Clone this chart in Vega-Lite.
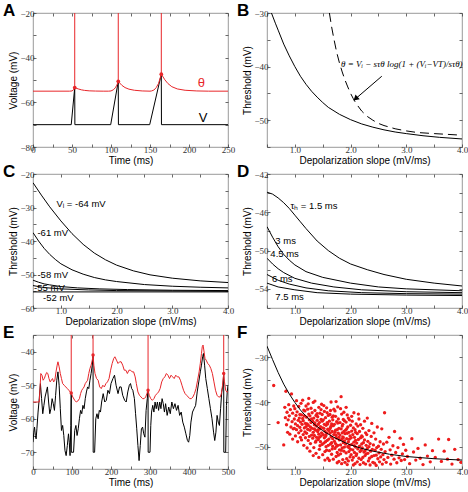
{
"$schema":"https://vega.github.io/schema/vega-lite/v6.json",
"padding":{"left":2,"top":1,"right":0,"bottom":0},
"background":"white",
"columns":2,
"spacing":{"row":27,"column":39},
"bounds":"flush",
"datasets":{
"aV":[{"t":0,"v":-70},{"t":49,"v":-70},{"t":53.5,"v":-53.4},{"t":53.7,"v":-70},{"t":99.6,"v":-70},{"t":109.3,"v":-50.6},{"t":109.5,"v":-70},{"t":149.6,"v":-70},{"t":164.5,"v":-47.4},{"t":164.7,"v":-70},{"t":250,"v":-70}],
"aTh":[{"t":0,"v":-55},{"t":47,"v":-55},{"t":50,"v":-54.9},{"t":52,"v":-54.4},{"t":53.5,"v":-53.4},{"t":55,"v":-53.6},{"t":58,"v":-54.0},{"t":62,"v":-54.4},{"t":66,"v":-54.65},{"t":72,"v":-54.85},{"t":80,"v":-54.95},{"t":90,"v":-55},{"t":97,"v":-55},{"t":100,"v":-54.9},{"t":103,"v":-54.4},{"t":105.5,"v":-53.5},{"t":107.5,"v":-52.3},{"t":109.3,"v":-50.6},{"t":111,"v":-51.3},{"t":114,"v":-52.4},{"t":118,"v":-53.4},{"t":123,"v":-54.1},{"t":130,"v":-54.6},{"t":140,"v":-54.9},{"t":150,"v":-55},{"t":152,"v":-54.9},{"t":155,"v":-54.5},{"t":158,"v":-53.4},{"t":161,"v":-51.5},{"t":164.5,"v":-47.4},{"t":166,"v":-48.2},{"t":169,"v":-49.9},{"t":173,"v":-51.6},{"t":178,"v":-53.0},{"t":185,"v":-54.0},{"t":195,"v":-54.6},{"t":210,"v":-54.9},{"t":225,"v":-55},{"t":250,"v":-55}],
"aSp":[{"t":53.5,"v":-53.4,"top":-20},{"t":109.3,"v":-50.6,"top":-20},{"t":164.5,"v":-47.4,"top":-20}],
"aLab":[{"t":216,"v":-51.5,"label":"θ","series":"theta"},{"t":218,"v":-67,"label":"V","series":"V"}],
"bSolid":[{"s":0.58,"th":-30},{"s":0.65,"th":-31.9},{"s":0.7,"th":-33.2},{"s":0.8,"th":-35.8},{"s":0.9,"th":-38.0},{"s":1.0,"th":-40.0},{"s":1.1,"th":-41.8},{"s":1.2,"th":-43.3},{"s":1.3,"th":-44.6},{"s":1.4,"th":-45.7},{"s":1.5,"th":-46.7},{"s":1.6,"th":-47.6},{"s":1.8,"th":-48.9},{"s":2.0,"th":-49.9},{"s":2.2,"th":-50.7},{"s":2.4,"th":-51.3},{"s":2.6,"th":-51.8},{"s":2.8,"th":-52.2},{"s":3.0,"th":-52.5},{"s":3.3,"th":-52.9},{"s":3.6,"th":-53.2},{"s":4.0,"th":-53.5}],
"bDash":[{"s":1.62,"th":-30},{"s":1.66,"th":-32.6},{"s":1.70,"th":-34.8},{"s":1.75,"th":-37.3},{"s":1.80,"th":-39.3},{"s":1.85,"th":-41.0},{"s":1.90,"th":-42.5},{"s":1.95,"th":-43.8},{"s":2.00,"th":-45.0},{"s":2.05,"th":-46.0},{"s":2.10,"th":-46.9},{"s":2.20,"th":-48.3},{"s":2.30,"th":-49.3},{"s":2.40,"th":-50.0},{"s":2.50,"th":-50.6},{"s":2.60,"th":-51.0},{"s":2.80,"th":-51.6},{"s":3.00,"th":-52.0},{"s":3.20,"th":-52.3},{"s":3.50,"th":-52.5},{"s":4.00,"th":-52.8}],
"bArrow":[{"s":2.56,"th":-41.8,"s2":2.09,"th2":-46.0}],
"bHead":[{"s":2.09,"th":-46.0}],
"bEq":[{"s":2.92,"th":-39.6,"label":"θ = Vᵢ − sτθ log(1 + (Vᵢ−VT)/sτθ)"}],
"cCurves":[
{"s":0.5,"th":-22.6,"k":"-64"},{"s":0.65,"th":-26.3,"k":"-64"},{"s":0.8,"th":-29.8,"k":"-64"},{"s":1.0,"th":-34.0,"k":"-64"},{"s":1.2,"th":-37.8,"k":"-64"},{"s":1.4,"th":-41.0,"k":"-64"},{"s":1.6,"th":-43.6,"k":"-64"},{"s":1.8,"th":-45.6,"k":"-64"},{"s":2.0,"th":-47.2,"k":"-64"},{"s":2.3,"th":-48.9,"k":"-64"},{"s":2.6,"th":-50.1,"k":"-64"},{"s":3.0,"th":-51.1,"k":"-64"},{"s":3.5,"th":-51.9,"k":"-64"},{"s":4.0,"th":-52.4,"k":"-64"},
{"s":0.5,"th":-37.5,"k":"-61"},{"s":0.6,"th":-40.0,"k":"-61"},{"s":0.7,"th":-42.2,"k":"-61"},{"s":0.8,"th":-44.0,"k":"-61"},{"s":0.9,"th":-45.5,"k":"-61"},{"s":1.0,"th":-46.8,"k":"-61"},{"s":1.2,"th":-48.6,"k":"-61"},{"s":1.4,"th":-49.9,"k":"-61"},{"s":1.6,"th":-50.9,"k":"-61"},{"s":1.8,"th":-51.6,"k":"-61"},{"s":2.0,"th":-52.1,"k":"-61"},{"s":2.5,"th":-53.0,"k":"-61"},{"s":3.0,"th":-53.5,"k":"-61"},{"s":3.5,"th":-53.8,"k":"-61"},{"s":4.0,"th":-54.0,"k":"-61"},
{"s":0.5,"th":-51.7,"k":"-58"},{"s":0.6,"th":-52.3,"k":"-58"},{"s":0.7,"th":-52.8,"k":"-58"},{"s":0.8,"th":-53.1,"k":"-58"},{"s":1.0,"th":-53.6,"k":"-58"},{"s":1.3,"th":-54.0,"k":"-58"},{"s":1.7,"th":-54.3,"k":"-58"},{"s":2.2,"th":-54.5,"k":"-58"},{"s":3.0,"th":-54.7,"k":"-58"},{"s":4.0,"th":-54.8,"k":"-58"},
{"s":0.5,"th":-53.3,"k":"-55"},{"s":0.7,"th":-53.9,"k":"-55"},{"s":1.0,"th":-54.3,"k":"-55"},{"s":1.5,"th":-54.6,"k":"-55"},{"s":2.0,"th":-54.8,"k":"-55"},{"s":3.0,"th":-54.9,"k":"-55"},{"s":4.0,"th":-55.0,"k":"-55"},
{"s":0.5,"th":-55.2,"k":"-52"},{"s":4.0,"th":-55.2,"k":"-52"}],
"cLab":[{"s":0.92,"th":-28.9,"label":"Vᵢ = -64 mV"},{"s":0.58,"th":-37.6,"label":"-61 mV"},{"s":0.58,"th":-50.1,"label":"-58 mV"},{"s":0.52,"th":-53.9,"label":"-55 mV"},{"s":0.68,"th":-57.1,"label":"-52 mV"}],
"dCurves":[
{"s":0.5,"th":-43.9,"k":"1.5"},{"s":0.6,"th":-44.1,"k":"1.5"},{"s":0.7,"th":-44.5,"k":"1.5"},{"s":0.8,"th":-45.0,"k":"1.5"},{"s":0.9,"th":-45.6,"k":"1.5"},{"s":1.0,"th":-46.3,"k":"1.5"},{"s":1.1,"th":-47.0,"k":"1.5"},{"s":1.2,"th":-47.7,"k":"1.5"},{"s":1.4,"th":-49.0,"k":"1.5"},{"s":1.6,"th":-50.0,"k":"1.5"},{"s":1.8,"th":-50.8,"k":"1.5"},{"s":2.0,"th":-51.4,"k":"1.5"},{"s":2.3,"th":-52.0,"k":"1.5"},{"s":2.6,"th":-52.5,"k":"1.5"},{"s":3.0,"th":-53.0,"k":"1.5"},{"s":3.5,"th":-53.4,"k":"1.5"},{"s":4.0,"th":-53.7,"k":"1.5"},
{"s":0.5,"th":-47.5,"k":"3"},{"s":0.6,"th":-48.6,"k":"3"},{"s":0.7,"th":-49.6,"k":"3"},{"s":0.8,"th":-50.4,"k":"3"},{"s":0.9,"th":-51.0,"k":"3"},{"s":1.0,"th":-51.5,"k":"3"},{"s":1.2,"th":-52.2,"k":"3"},{"s":1.5,"th":-52.8,"k":"3"},{"s":2.0,"th":-53.4,"k":"3"},{"s":2.5,"th":-53.8,"k":"3"},{"s":3.0,"th":-54.0,"k":"3"},{"s":4.0,"th":-54.2,"k":"3"},
{"s":0.5,"th":-50.8,"k":"4.5"},{"s":0.6,"th":-51.4,"k":"4.5"},{"s":0.7,"th":-51.9,"k":"4.5"},{"s":0.8,"th":-52.3,"k":"4.5"},{"s":1.0,"th":-52.9,"k":"4.5"},{"s":1.3,"th":-53.4,"k":"4.5"},{"s":1.7,"th":-53.8,"k":"4.5"},{"s":2.2,"th":-54.1,"k":"4.5"},{"s":3.0,"th":-54.3,"k":"4.5"},{"s":4.0,"th":-54.4,"k":"4.5"},
{"s":0.5,"th":-52.5,"k":"6"},{"s":0.7,"th":-53.1,"k":"6"},{"s":0.9,"th":-53.5,"k":"6"},{"s":1.2,"th":-53.9,"k":"6"},{"s":1.6,"th":-54.2,"k":"6"},{"s":2.2,"th":-54.4,"k":"6"},{"s":3.0,"th":-54.5,"k":"6"},{"s":4.0,"th":-54.55,"k":"6"},
{"s":0.5,"th":-53.4,"k":"7.5"},{"s":0.7,"th":-53.8,"k":"7.5"},{"s":1.0,"th":-54.1,"k":"7.5"},{"s":1.4,"th":-54.4,"k":"7.5"},{"s":2.0,"th":-54.55,"k":"7.5"},{"s":3.0,"th":-54.65,"k":"7.5"},{"s":4.0,"th":-54.7,"k":"7.5"}],
"dLab":[{"s":0.92,"th":-45.3,"label":"τₕ = 1.5 ms"},{"s":0.65,"th":-49.0,"label":"3 ms"},{"s":0.56,"th":-50.4,"label":"4.5 ms"},{"s":0.59,"th":-53.0,"label":"6 ms"},{"s":0.65,"th":-54.8,"label":"7.5 ms"}],
"eV":[{"t":0,"v":-67},{"t":2,"v":-64},{"t":4,"v":-62.5},{"t":6,"v":-65},{"t":8,"v":-66},{"t":10,"v":-63},{"t":13,"v":-58},{"t":16,"v":-54},{"t":19,"v":-49.5},{"t":22,"v":-54},{"t":25,"v":-58.5},{"t":28,"v":-56},{"t":31,"v":-53.5},{"t":34,"v":-52},{"t":37,"v":-50.5},{"t":40,"v":-55},{"t":43,"v":-58.5},{"t":46,"v":-57},{"t":49,"v":-54},{"t":52,"v":-55.5},{"t":55,"v":-57.5},{"t":58,"v":-53},{"t":61,"v":-48.5},{"t":64,"v":-46},{"t":67,"v":-50},{"t":70,"v":-57},{"t":73,"v":-63.5},{"t":76,"v":-62},{"t":79,"v":-65},{"t":82,"v":-69.5},{"t":85,"v":-71},{"t":88,"v":-68},{"t":91,"v":-64.5},{"t":93,"v":-67},{"t":95,"v":-71},{"t":97,"v":-62},{"t":98,"v":-52.3},{"t":98.3,"v":-70},{"t":104,"v":-70},{"t":107,"v":-63.5},{"t":110,"v":-62},{"t":113,"v":-65},{"t":116,"v":-63},{"t":119,"v":-60},{"t":122,"v":-57.5},{"t":125,"v":-58.5},{"t":128,"v":-56},{"t":131,"v":-57},{"t":134,"v":-54},{"t":137,"v":-52},{"t":140,"v":-50.5},{"t":143,"v":-51},{"t":146,"v":-48.5},{"t":149,"v":-46.5},{"t":152,"v":-44},{"t":154,"v":-41},{"t":154.3,"v":-70},{"t":158,"v":-70},{"t":161,"v":-60},{"t":164,"v":-58.5},{"t":167,"v":-60},{"t":170,"v":-57.5},{"t":173,"v":-58},{"t":176,"v":-55},{"t":180,"v":-52.5},{"t":184,"v":-55},{"t":188,"v":-54.5},{"t":192,"v":-51.5},{"t":196,"v":-52.5},{"t":200,"v":-49.5},{"t":205,"v":-48},{"t":209,"v":-47},{"t":213,"v":-50},{"t":218,"v":-52.5},{"t":222,"v":-50.5},{"t":226,"v":-50.5},{"t":230,"v":-53},{"t":235,"v":-54.5},{"t":239,"v":-55},{"t":243,"v":-52},{"t":247,"v":-50},{"t":250,"v":-49.5},{"t":253,"v":-51},{"t":256,"v":-51.5},{"t":260,"v":-54},{"t":263,"v":-58.5},{"t":266,"v":-63},{"t":269,"v":-68},{"t":272,"v":-72.5},{"t":275,"v":-68},{"t":278,"v":-63},{"t":281,"v":-62.5},{"t":284,"v":-64.5},{"t":287,"v":-65.5},{"t":290,"v":-57.5},{"t":293,"v":-54},{"t":295,"v":-51.5},{"t":295.3,"v":-70},{"t":300,"v":-70},{"t":302,"v":-62},{"t":304,"v":-58},{"t":307,"v":-56},{"t":310,"v":-58},{"t":313,"v":-55},{"t":316,"v":-57},{"t":319,"v":-55},{"t":322,"v":-57.5},{"t":325,"v":-55},{"t":328,"v":-57},{"t":331,"v":-54},{"t":334,"v":-55.5},{"t":337,"v":-58},{"t":340,"v":-55.5},{"t":344,"v":-59},{"t":348,"v":-56.5},{"t":352,"v":-58.5},{"t":356,"v":-55},{"t":360,"v":-57},{"t":364,"v":-55.5},{"t":368,"v":-57.5},{"t":372,"v":-56},{"t":376,"v":-59},{"t":380,"v":-58},{"t":384,"v":-61},{"t":388,"v":-62.5},{"t":392,"v":-64.5},{"t":396,"v":-66.5},{"t":399,"v":-67},{"t":402,"v":-65},{"t":405,"v":-61},{"t":409,"v":-58},{"t":413,"v":-57},{"t":417,"v":-56},{"t":421,"v":-52},{"t":425,"v":-49},{"t":429,"v":-46},{"t":432,"v":-44},{"t":435,"v":-41.5},{"t":437,"v":-40.5},{"t":440,"v":-44},{"t":443,"v":-48},{"t":447,"v":-51},{"t":451,"v":-54},{"t":455,"v":-57},{"t":459,"v":-60},{"t":463,"v":-64},{"t":466,"v":-66.5},{"t":469,"v":-64},{"t":472,"v":-59},{"t":475,"v":-61},{"t":478,"v":-62},{"t":481,"v":-57},{"t":484,"v":-52},{"t":487,"v":-50},{"t":489,"v":-46.5},{"t":489.3,"v":-70},{"t":494,"v":-70},{"t":496,"v":-56},{"t":498,"v":-52},{"t":500,"v":-50}],
"eTh":[{"t":0,"v":-55},{"t":16,"v":-55},{"t":18,"v":-51},{"t":20,"v":-46.5},{"t":23,"v":-47},{"t":26,"v":-48.5},{"t":29,"v":-48},{"t":32,"v":-47},{"t":35,"v":-46.2},{"t":38,"v":-46.5},{"t":41,"v":-48},{"t":44,"v":-49},{"t":47,"v":-48.5},{"t":50,"v":-48},{"t":53,"v":-49},{"t":56,"v":-48.5},{"t":59,"v":-46},{"t":62,"v":-44},{"t":64,"v":-43},{"t":67,"v":-44.5},{"t":70,"v":-46.5},{"t":73,"v":-48},{"t":76,"v":-49.5},{"t":80,"v":-50},{"t":84,"v":-50.5},{"t":88,"v":-51},{"t":92,"v":-51.5},{"t":95,"v":-52},{"t":98,"v":-52.3},{"t":102,"v":-53.5},{"t":107,"v":-54.5},{"t":111,"v":-55},{"t":115,"v":-54.7},{"t":119,"v":-54},{"t":122,"v":-52.5},{"t":125,"v":-51.5},{"t":128,"v":-51},{"t":131,"v":-50.5},{"t":134,"v":-49.5},{"t":137,"v":-49},{"t":140,"v":-48.5},{"t":143,"v":-46.5},{"t":146,"v":-45},{"t":149,"v":-44},{"t":152,"v":-42.5},{"t":154,"v":-41},{"t":156,"v":-44},{"t":159,"v":-46.5},{"t":163,"v":-48},{"t":167,"v":-48.5},{"t":171,"v":-50.5},{"t":175,"v":-51},{"t":179,"v":-50},{"t":183,"v":-50.5},{"t":187,"v":-49.5},{"t":191,"v":-49},{"t":195,"v":-48},{"t":199,"v":-45.5},{"t":203,"v":-43.5},{"t":207,"v":-42},{"t":210,"v":-41.5},{"t":214,"v":-42.5},{"t":218,"v":-43.5},{"t":222,"v":-43},{"t":226,"v":-43},{"t":230,"v":-44},{"t":234,"v":-45.5},{"t":238,"v":-45.5},{"t":242,"v":-46.5},{"t":246,"v":-45.5},{"t":250,"v":-45.5},{"t":254,"v":-46},{"t":258,"v":-46},{"t":262,"v":-47.5},{"t":265,"v":-49.5},{"t":269,"v":-52},{"t":273,"v":-53},{"t":277,"v":-53.5},{"t":281,"v":-54},{"t":285,"v":-54},{"t":289,"v":-53.5},{"t":292,"v":-52.5},{"t":295,"v":-51.5},{"t":298,"v":-53},{"t":302,"v":-54},{"t":306,"v":-54.5},{"t":310,"v":-54},{"t":314,"v":-53},{"t":318,"v":-52.5},{"t":322,"v":-52},{"t":326,"v":-51},{"t":330,"v":-49},{"t":334,"v":-48},{"t":338,"v":-47.5},{"t":342,"v":-46.5},{"t":346,"v":-47},{"t":350,"v":-48},{"t":354,"v":-47},{"t":358,"v":-47.5},{"t":362,"v":-48},{"t":366,"v":-47},{"t":370,"v":-47.5},{"t":374,"v":-47.5},{"t":378,"v":-48.5},{"t":382,"v":-50},{"t":386,"v":-51.5},{"t":390,"v":-52.5},{"t":394,"v":-53},{"t":398,"v":-53.5},{"t":402,"v":-54},{"t":406,"v":-54},{"t":410,"v":-53.5},{"t":414,"v":-52.5},{"t":418,"v":-51},{"t":422,"v":-48.5},{"t":426,"v":-46},{"t":429,"v":-43.5},{"t":432,"v":-40.5},{"t":434,"v":-38.5},{"t":436,"v":-38},{"t":438,"v":-39.5},{"t":441,"v":-42},{"t":444,"v":-42.5},{"t":448,"v":-43.5},{"t":452,"v":-44},{"t":456,"v":-45},{"t":460,"v":-46.5},{"t":464,"v":-49},{"t":468,"v":-51.5},{"t":472,"v":-53},{"t":476,"v":-53.5},{"t":480,"v":-53.5},{"t":483,"v":-52.5},{"t":486,"v":-50},{"t":489,"v":-46.5},{"t":491,"v":-49},{"t":494,"v":-51.5},{"t":497,"v":-52},{"t":500,"v":-52}],
"eSp":[{"t":98,"v":-52.3,"top":-35},{"t":154,"v":-41,"top":-35},{"t":295,"v":-51.5,"top":-35},{"t":489,"v":-46.5,"top":-35}],
"fCurve":[{"s":0.5,"th":-27.5},{"s":0.6,"th":-30.5},{"s":0.7,"th":-33.4},{"s":0.8,"th":-36.0},{"s":0.9,"th":-38.2},{"s":1.0,"th":-40.1},{"s":1.1,"th":-41.8},{"s":1.2,"th":-43.2},{"s":1.3,"th":-44.4},{"s":1.4,"th":-45.5},{"s":1.5,"th":-46.4},{"s":1.6,"th":-47.2},{"s":1.7,"th":-47.9},{"s":1.8,"th":-48.5},{"s":1.9,"th":-49.1},{"s":2.0,"th":-49.6},{"s":2.2,"th":-50.4},{"s":2.4,"th":-51.0},{"s":2.7,"th":-51.7},{"s":3.0,"th":-52.2},{"s":3.5,"th":-52.7},{"s":4.0,"th":-53.0}],
"fPts":[
{"s":0.62,"th":-36.3},{"s":0.70,"th":-44.6},{"s":0.80,"th":-49.6},
{"s":0.82,"th":-41.2},{"s":0.83,"th":-43.5},{"s":0.84,"th":-37.6},{"s":0.85,"th":-45.1},{"s":0.86,"th":-42.3},{"s":0.87,"th":-46.8},{"s":0.88,"th":-44.0},{"s":0.89,"th":-40.6},
{"s":0.90,"th":-43.1},{"s":0.91,"th":-47.2},{"s":0.92,"th":-41.7},{"s":0.93,"th":-45.6},{"s":0.94,"th":-38.2},{"s":0.95,"th":-44.4},{"s":0.96,"th":-42.5},{"s":0.96,"th":-48.3},{"s":0.97,"th":-46.0},{"s":0.98,"th":-40.9},{"s":0.99,"th":-43.8},{"s":0.99,"th":-45.9},
{"s":1.00,"th":-41.5},{"s":1.01,"th":-44.9},{"s":1.01,"th":-47.6},{"s":1.02,"th":-43.0},{"s":1.03,"th":-39.7},{"s":1.03,"th":-46.2},{"s":1.04,"th":-42.2},{"s":1.05,"th":-45.3},{"s":1.05,"th":-48.9},{"s":1.06,"th":-44.1},{"s":1.07,"th":-41.0},{"s":1.07,"th":-46.9},{"s":1.08,"th":-43.6},{"s":1.09,"th":-45.7},{"s":1.09,"th":-42.8},{"s":1.10,"th":-47.9},
{"s":1.10,"th":-44.5},{"s":1.11,"th":-40.3},{"s":1.11,"th":-46.4},{"s":1.12,"th":-42.9},{"s":1.12,"th":-48.5},{"s":1.13,"th":-45.0},{"s":1.14,"th":-43.7},{"s":1.14,"th":-39.6},{"s":1.15,"th":-47.3},{"s":1.15,"th":-44.2},{"s":1.16,"th":-41.8},{"s":1.16,"th":-49.7},{"s":1.17,"th":-45.8},{"s":1.17,"th":-43.1},{"s":1.18,"th":-46.7},{"s":1.18,"th":-42.0},{"s":1.19,"th":-44.8},{"s":1.19,"th":-48.0},{"s":1.20,"th":-40.9},{"s":1.20,"th":-45.5},
{"s":1.21,"th":-43.4},{"s":1.21,"th":-47.0},{"s":1.22,"th":-44.9},{"s":1.22,"th":-50.3},{"s":1.23,"th":-41.6},{"s":1.23,"th":-46.1},{"s":1.24,"th":-45.2},{"s":1.24,"th":-48.6},{"s":1.25,"th":-42.7},{"s":1.25,"th":-39.2},{"s":1.26,"th":-44.0},{"s":1.26,"th":-47.7},{"s":1.27,"th":-46.3},{"s":1.27,"th":-43.1},{"s":1.28,"th":-49.3},{"s":1.28,"th":-45.6},{"s":1.29,"th":-41.4},{"s":1.29,"th":-44.6},{"s":1.30,"th":-47.4},{"s":1.30,"th":-43.8},{"s":1.24,"th":-40.4},{"s":1.27,"th":-51.0},
{"s":1.31,"th":-45.9},{"s":1.31,"th":-42.4},{"s":1.32,"th":-48.1},{"s":1.32,"th":-44.3},{"s":1.33,"th":-46.8},{"s":1.33,"th":-40.1},{"s":1.34,"th":-43.6},{"s":1.34,"th":-50.2},{"s":1.35,"th":-45.1},{"s":1.35,"th":-47.5},{"s":1.36,"th":-41.9},{"s":1.36,"th":-44.7},{"s":1.37,"th":-49.0},{"s":1.37,"th":-46.3},{"s":1.38,"th":-43.0},{"s":1.38,"th":-51.5},{"s":1.39,"th":-45.4},{"s":1.39,"th":-47.9},{"s":1.40,"th":-42.6},{"s":1.40,"th":-44.1},{"s":1.33,"th":-52.0},{"s":1.36,"th":-39.8},{"s":1.38,"th":-48.7},{"s":1.35,"th":-46.0},
{"s":1.41,"th":-46.6},{"s":1.41,"th":-43.3},{"s":1.42,"th":-48.4},{"s":1.42,"th":-45.0},{"s":1.43,"th":-41.2},{"s":1.43,"th":-47.2},{"s":1.44,"th":-44.6},{"s":1.44,"th":-50.6},{"s":1.45,"th":-46.0},{"s":1.45,"th":-42.5},{"s":1.46,"th":-48.9},{"s":1.46,"th":-45.5},{"s":1.47,"th":-43.9},{"s":1.47,"th":-47.6},{"s":1.48,"th":-40.5},{"s":1.48,"th":-46.9},{"s":1.49,"th":-49.5},{"s":1.49,"th":-44.3},{"s":1.50,"th":-45.8},{"s":1.50,"th":-51.8},{"s":1.43,"th":-52.4},{"s":1.45,"th":-49.8},{"s":1.47,"th":-41.7},{"s":1.44,"th":-47.9},{"s":1.49,"th":-42.8},{"s":1.42,"th":-46.2},
{"s":1.51,"th":-47.3},{"s":1.51,"th":-44.0},{"s":1.52,"th":-49.2},{"s":1.52,"th":-45.9},{"s":1.53,"th":-42.1},{"s":1.53,"th":-48.0},{"s":1.54,"th":-46.5},{"s":1.54,"th":-51.1},{"s":1.55,"th":-43.5},{"s":1.55,"th":-47.7},{"s":1.56,"th":-45.2},{"s":1.56,"th":-50.0},{"s":1.57,"th":-41.3},{"s":1.57,"th":-46.9},{"s":1.58,"th":-48.6},{"s":1.58,"th":-44.6},{"s":1.59,"th":-52.6},{"s":1.59,"th":-46.1},{"s":1.60,"th":-43.0},{"s":1.60,"th":-49.7},{"s":1.52,"th":-40.8},{"s":1.54,"th":-53.0},{"s":1.56,"th":-47.4},{"s":1.58,"th":-42.4},{"s":1.53,"th":-45.0},{"s":1.57,"th":-50.8},{"s":1.59,"th":-44.9},{"s":1.55,"th":-48.9},
{"s":1.61,"th":-46.4},{"s":1.61,"th":-48.3},{"s":1.62,"th":-44.3},{"s":1.62,"th":-50.9},{"s":1.63,"th":-47.0},{"s":1.63,"th":-42.8},{"s":1.64,"th":-49.4},{"s":1.64,"th":-45.7},{"s":1.65,"th":-40.0},{"s":1.65,"th":-47.8},{"s":1.66,"th":-51.7},{"s":1.66,"th":-44.9},{"s":1.67,"th":-46.6},{"s":1.67,"th":-43.4},{"s":1.68,"th":-49.9},{"s":1.68,"th":-48.2},{"s":1.69,"th":-45.3},{"s":1.69,"th":-52.8},{"s":1.70,"th":-41.6},{"s":1.70,"th":-47.3},{"s":1.62,"th":-53.1},{"s":1.64,"th":-41.9},{"s":1.66,"th":-49.1},{"s":1.68,"th":-44.0},{"s":1.63,"th":-46.0},{"s":1.67,"th":-50.5},{"s":1.69,"th":-43.1},{"s":1.65,"th":-45.4},
{"s":1.71,"th":-48.8},{"s":1.71,"th":-45.0},{"s":1.72,"th":-50.4},{"s":1.72,"th":-46.8},{"s":1.73,"th":-43.2},{"s":1.73,"th":-49.3},{"s":1.74,"th":-47.5},{"s":1.74,"th":-52.2},{"s":1.75,"th":-44.4},{"s":1.75,"th":-48.1},{"s":1.76,"th":-46.2},{"s":1.76,"th":-51.3},{"s":1.77,"th":-41.1},{"s":1.77,"th":-49.7},{"s":1.78,"th":-47.0},{"s":1.78,"th":-43.8},{"s":1.79,"th":-53.3},{"s":1.79,"th":-45.9},{"s":1.80,"th":-48.5},{"s":1.80,"th":-50.7},{"s":1.72,"th":-42.0},{"s":1.74,"th":-39.9},{"s":1.76,"th":-53.6},{"s":1.78,"th":-51.9},{"s":1.73,"th":-46.3},{"s":1.77,"th":-44.7},{"s":1.79,"th":-47.9},{"s":1.75,"th":-49.9},
{"s":1.81,"th":-47.4},{"s":1.81,"th":-44.6},{"s":1.82,"th":-49.6},{"s":1.82,"th":-51.6},{"s":1.83,"th":-46.0},{"s":1.83,"th":-38.8},{"s":1.84,"th":-48.4},{"s":1.84,"th":-42.7},{"s":1.85,"th":-50.3},{"s":1.85,"th":-45.4},{"s":1.86,"th":-47.8},{"s":1.86,"th":-52.9},{"s":1.87,"th":-43.9},{"s":1.87,"th":-49.1},{"s":1.88,"th":-46.6},{"s":1.88,"th":-51.0},{"s":1.89,"th":-48.7},{"s":1.89,"th":-44.2},{"s":1.90,"th":-53.5},{"s":1.90,"th":-47.1},{"s":1.82,"th":-41.5},{"s":1.84,"th":-53.8},{"s":1.86,"th":-45.0},{"s":1.88,"th":-42.3},{"s":1.83,"th":-50.8},{"s":1.87,"th":-48.0},{"s":1.89,"th":-50.1},{"s":1.85,"th":-46.9},
{"s":1.91,"th":-49.4},{"s":1.91,"th":-46.3},{"s":1.92,"th":-51.4},{"s":1.92,"th":-44.5},{"s":1.93,"th":-48.2},{"s":1.93,"th":-52.7},{"s":1.94,"th":-47.0},{"s":1.94,"th":-42.9},{"s":1.95,"th":-50.0},{"s":1.95,"th":-45.6},{"s":1.96,"th":-53.2},{"s":1.96,"th":-48.9},{"s":1.97,"th":-46.8},{"s":1.97,"th":-51.1},{"s":1.98,"th":-44.0},{"s":1.98,"th":-49.7},{"s":1.99,"th":-47.6},{"s":1.99,"th":-52.3},{"s":2.00,"th":-45.2},{"s":2.00,"th":-50.6},{"s":1.92,"th":-41.2},{"s":1.94,"th":-54.0},{"s":1.96,"th":-43.6},{"s":1.98,"th":-48.3},{"s":1.93,"th":-46.0},{"s":1.97,"th":-50.2},
{"s":2.01,"th":-48.0},{"s":2.01,"th":-51.8},{"s":2.02,"th":-46.5},{"s":2.02,"th":-49.5},{"s":2.03,"th":-53.0},{"s":2.03,"th":-44.3},{"s":2.04,"th":-50.7},{"s":2.04,"th":-47.3},{"s":2.05,"th":-52.4},{"s":2.05,"th":-45.8},{"s":2.06,"th":-49.0},{"s":2.06,"th":-42.4},{"s":2.07,"th":-51.3},{"s":2.07,"th":-47.9},{"s":2.08,"th":-53.8},{"s":2.08,"th":-46.2},{"s":2.09,"th":-50.1},{"s":2.09,"th":-48.6},{"s":2.10,"th":-44.9},{"s":2.10,"th":-52.0},{"s":2.02,"th":-43.2},{"s":2.05,"th":-54.1},{"s":2.07,"th":-49.8},{"s":2.09,"th":-46.8},
{"s":2.11,"th":-49.2},{"s":2.11,"th":-51.6},{"s":2.12,"th":-47.1},{"s":2.12,"th":-53.4},{"s":2.13,"th":-45.4},{"s":2.13,"th":-50.5},{"s":2.14,"th":-48.4},{"s":2.15,"th":-52.6},{"s":2.15,"th":-43.8},{"s":2.16,"th":-49.9},{"s":2.16,"th":-46.6},{"s":2.17,"th":-51.1},{"s":2.17,"th":-54.0},{"s":2.18,"th":-48.0},{"s":2.18,"th":-45.1},{"s":2.19,"th":-50.8},{"s":2.19,"th":-52.9},{"s":2.20,"th":-47.6},{"s":2.14,"th":-42.7},{"s":2.20,"th":-49.4},
{"s":2.21,"th":-50.3},{"s":2.21,"th":-47.8},{"s":2.22,"th":-52.4},{"s":2.22,"th":-45.9},{"s":2.23,"th":-49.1},{"s":2.23,"th":-53.6},{"s":2.24,"th":-51.2},{"s":2.25,"th":-48.5},{"s":2.25,"th":-44.3},{"s":2.26,"th":-50.9},{"s":2.26,"th":-52.0},{"s":2.27,"th":-46.9},{"s":2.27,"th":-53.9},{"s":2.28,"th":-49.7},{"s":2.28,"th":-51.6},{"s":2.29,"th":-47.3},{"s":2.30,"th":-50.4},{"s":2.30,"th":-43.6},
{"s":2.31,"th":-51.5},{"s":2.31,"th":-48.8},{"s":2.32,"th":-53.2},{"s":2.33,"th":-50.0},{"s":2.33,"th":-46.4},{"s":2.34,"th":-52.6},{"s":2.35,"th":-49.3},{"s":2.35,"th":-54.1},{"s":2.36,"th":-51.0},{"s":2.37,"th":-47.7},{"s":2.38,"th":-52.2},{"s":2.38,"th":-44.8},{"s":2.39,"th":-50.6},{"s":2.40,"th":-53.5},
{"s":2.41,"th":-49.6},{"s":2.42,"th":-52.0},{"s":2.42,"th":-46.9},{"s":2.43,"th":-53.7},{"s":2.44,"th":-50.8},{"s":2.45,"th":-48.3},{"s":2.46,"th":-51.9},{"s":2.46,"th":-54.2},{"s":2.47,"th":-50.2},{"s":2.48,"th":-45.6},{"s":2.49,"th":-52.7},{"s":2.50,"th":-49.9},
{"s":2.51,"th":-51.4},{"s":2.52,"th":-53.4},{"s":2.53,"th":-48.9},{"s":2.54,"th":-52.3},{"s":2.55,"th":-50.6},{"s":2.56,"th":-46.0},{"s":2.57,"th":-53.9},{"s":2.58,"th":-51.8},{"s":2.59,"th":-49.4},{"s":2.60,"th":-52.9},
{"s":2.61,"th":-42.4},{"s":2.62,"th":-51.1},{"s":2.64,"th":-53.5},{"s":2.65,"th":-49.0},{"s":2.67,"th":-52.4},{"s":2.69,"th":-47.9},{"s":2.71,"th":-50.7},{"s":2.72,"th":-53.9},{"s":2.74,"th":-51.9},{"s":2.76,"th":-49.8},{"s":2.78,"th":-52.8},{"s":2.79,"th":-46.6},
{"s":2.81,"th":-51.3},{"s":2.83,"th":-53.6},{"s":2.85,"th":-50.2},{"s":2.87,"th":-52.5},{"s":2.89,"th":-48.1},{"s":2.91,"th":-53.1},{"s":2.93,"th":-51.6},{"s":2.95,"th":-49.5},{"s":2.97,"th":-52.9},{"s":2.99,"th":-50.8},
{"s":3.02,"th":-52.2},{"s":3.06,"th":-53.8},{"s":3.10,"th":-48.2},{"s":3.13,"th":-51.2},{"s":3.17,"th":-53.0},{"s":3.21,"th":-50.4},{"s":3.25,"th":-52.6},{"s":3.30,"th":-54.0},{"s":3.34,"th":-49.6},{"s":3.38,"th":-52.1},{"s":3.43,"th":-53.4},{"s":3.47,"th":-50.9},
{"s":3.52,"th":-52.4},{"s":3.58,"th":-48.3},{"s":3.63,"th":-53.3},{"s":3.68,"th":-51.0},{"s":3.74,"th":-52.8},{"s":3.76,"th":-48.4},{"s":3.82,"th":-53.9},{"s":3.87,"th":-50.6},{"s":3.93,"th":-52.9},{"s":3.98,"th":-53.5}]
},
"concat":[
{"width":195,"height":134,
 "title":{"text":"A","dx":-30,"offset":-24,"baseline":"alphabetic"},
 "resolve":{"axis":{"x":"independent","y":"independent"}},
 "layer":[
  {"data":{"name":"aV"},"mark":{"type":"line","color":"#000000","strokeWidth":1,"clip":true},
   "encoding":{"x":{"field":"t","type":"quantitative","scale":{"domain":[0,250],"nice":false,"zero":false},"axis":{"title":"Time (ms)","values":[0,25,50,75,100,125,150,175,200,225,250],"labelExpr":"datum.value % 50 === 0 ? datum.label : ''"}},
               "y":{"field":"v","type":"quantitative","scale":{"domain":[-80,-20],"nice":false,"zero":false},"axis":{"title":"Voltage (mV)","values":[-80,-70,-60,-50,-40,-30,-20],"labelExpr":"datum.value % 20 === 0 ? datum.label : ''"}}}},
  {"data":{"name":"aTh"},"mark":{"type":"line","color":"#e8262a","strokeWidth":1,"clip":true},
   "encoding":{"x":{"field":"t","type":"quantitative","axis":null},"y":{"field":"v","type":"quantitative","axis":null}}},
  {"data":{"name":"aSp"},"mark":{"type":"rule","color":"#e8262a","strokeWidth":1,"clip":true},
   "encoding":{"x":{"field":"t","type":"quantitative","axis":null},"y":{"field":"v","type":"quantitative","axis":null},"y2":{"field":"top"}}},
  {"data":{"name":"aSp"},"mark":{"type":"circle","color":"#e8262a","size":14,"opacity":1},
   "encoding":{"x":{"field":"t","type":"quantitative","axis":null},"y":{"field":"v","type":"quantitative","axis":null}}},
  {"data":{"name":"aLab"},"mark":{"type":"text","font":"Liberation Sans","fontSize":13,"align":"center","baseline":"middle"},
   "encoding":{"x":{"field":"t","type":"quantitative","axis":null},"y":{"field":"v","type":"quantitative","axis":null},"text":{"field":"label"},
   "color":{"field":"series","type":"nominal","scale":{"domain":["theta","V"],"range":["#e8262a","#000000"]},"legend":null}}},
  {"data":{"name":"aV"},"mark":{"type":"point","opacity":0},
   "encoding":{"x":{"field":"t","type":"quantitative","axis":{"orient":"top","labels":false,"title":null,"minExtent":0,"maxExtent":0,"values":[0,25,50,75,100,125,150,175,200,225,250]}},
               "y":{"field":"v","type":"quantitative","axis":{"orient":"right","labels":false,"title":null,"minExtent":0,"maxExtent":0,"values":[-80,-70,-60,-50,-40,-30,-20]}}}}
 ]},
{"width":195,"height":134,
 "title":{"text":"B","dx":-30,"offset":-24,"baseline":"alphabetic"},
 "resolve":{"axis":{"x":"independent","y":"independent"}},
 "layer":[
  {"data":{"name":"bSolid"},"mark":{"type":"line","color":"#000000","strokeWidth":1,"clip":true},
   "encoding":{"x":{"field":"s","type":"quantitative","scale":{"domain":[0.5,4],"nice":false,"zero":false},"axis":{"title":"Depolarization slope (mV/ms)","values":[0.5,1,1.5,2,2.5,3,3.5,4],"labelExpr":"datum.value % 1 === 0 ? format(datum.value, '.1f') : ''"}},
               "y":{"field":"th","type":"quantitative","scale":{"domain":[-55,-30],"nice":false,"zero":false},"axis":{"title":"Threshold (mV)","values":[-55,-50,-45,-40,-35,-30],"labelExpr":"datum.value % 10 === 0 ? datum.label : ''"}}}},
  {"data":{"name":"bDash"},"mark":{"type":"line","color":"#000000","strokeWidth":1,"strokeDash":[9,5],"clip":true},
   "encoding":{"x":{"field":"s","type":"quantitative","axis":null},"y":{"field":"th","type":"quantitative","axis":null}}},
  {"data":{"name":"bArrow"},"mark":{"type":"rule","color":"#000000","strokeWidth":1},
   "encoding":{"x":{"field":"s","type":"quantitative","axis":null},"y":{"field":"th","type":"quantitative","axis":null},"x2":{"field":"s2"},"y2":{"field":"th2"}}},
  {"data":{"name":"bHead"},"mark":{"type":"point","shape":"triangle-up","filled":true,"color":"#000000","size":40,"angle":228,"opacity":1},
   "encoding":{"x":{"field":"s","type":"quantitative","axis":null},"y":{"field":"th","type":"quantitative","axis":null}}},
  {"data":{"name":"bEq"},"mark":{"type":"text","font":"Liberation Serif","fontStyle":"italic","fontSize":9,"align":"center","baseline":"middle","color":"#000000"},
   "encoding":{"x":{"field":"s","type":"quantitative","axis":null},"y":{"field":"th","type":"quantitative","axis":null},"text":{"field":"label"}}},
  {"data":{"name":"bSolid"},"mark":{"type":"point","opacity":0},
   "encoding":{"x":{"field":"s","type":"quantitative","axis":{"orient":"top","labels":false,"title":null,"minExtent":0,"maxExtent":0,"values":[0.5,1,1.5,2,2.5,3,3.5,4]}},
               "y":{"field":"th","type":"quantitative","axis":{"orient":"right","labels":false,"title":null,"minExtent":0,"maxExtent":0,"values":[-55,-50,-45,-40,-35,-30]}}}}
 ]},
{"width":195,"height":134,
 "title":{"text":"C","dx":-30,"offset":-24,"baseline":"alphabetic"},
 "resolve":{"axis":{"x":"independent","y":"independent"}},
 "layer":[
  {"data":{"name":"cCurves"},"mark":{"type":"line","color":"#000000","strokeWidth":1,"clip":true},
   "encoding":{"x":{"field":"s","type":"quantitative","scale":{"domain":[0.5,4],"nice":false,"zero":false},"axis":{"title":"Depolarization slope (mV/ms)","values":[0.5,1,1.5,2,2.5,3,3.5,4],"labelExpr":"datum.value % 1 === 0 ? format(datum.value, '.1f') : ''"}},
               "y":{"field":"th","type":"quantitative","scale":{"domain":[-60,-20],"nice":false,"zero":false},"axis":{"title":"Threshold (mV)","values":[-60,-55,-50,-45,-40,-35,-30,-25,-20],"labelExpr":"datum.value % 10 === 0 ? datum.label : ''"}},
               "detail":{"field":"k","type":"nominal"}}},
  {"data":{"name":"cLab"},"mark":{"type":"text","font":"Liberation Sans","fontSize":9.5,"align":"left","baseline":"middle","color":"#000000"},
   "encoding":{"x":{"field":"s","type":"quantitative","axis":null},"y":{"field":"th","type":"quantitative","axis":null},"text":{"field":"label"}}},
  {"data":{"name":"cCurves"},"mark":{"type":"point","opacity":0},
   "encoding":{"x":{"field":"s","type":"quantitative","axis":{"orient":"top","labels":false,"title":null,"minExtent":0,"maxExtent":0,"values":[0.5,1,1.5,2,2.5,3,3.5,4]}},
               "y":{"field":"th","type":"quantitative","axis":{"orient":"right","labels":false,"title":null,"minExtent":0,"maxExtent":0,"values":[-60,-55,-50,-45,-40,-35,-30,-25,-20]}}}}
 ]},
{"width":195,"height":134,
 "title":{"text":"D","dx":-30,"offset":-24,"baseline":"alphabetic"},
 "resolve":{"axis":{"x":"independent","y":"independent"}},
 "layer":[
  {"data":{"name":"dCurves"},"mark":{"type":"line","color":"#000000","strokeWidth":1,"clip":true},
   "encoding":{"x":{"field":"s","type":"quantitative","scale":{"domain":[0.5,4],"nice":false,"zero":false},"axis":{"title":"Depolarization slope (mV/ms)","values":[0.5,1,1.5,2,2.5,3,3.5,4],"labelExpr":"datum.value % 1 === 0 ? format(datum.value, '.1f') : ''"}},
               "y":{"field":"th","type":"quantitative","scale":{"domain":[-56,-42],"nice":false,"zero":false},"axis":{"title":"Threshold (mV)","values":[-56,-54,-52,-50,-48,-46,-44,-42],"labelExpr":"(datum.value + 42) % 4 === 0 ? datum.label : ''"}},
               "detail":{"field":"k","type":"nominal"}}},
  {"data":{"name":"dLab"},"mark":{"type":"text","font":"Liberation Sans","fontSize":9.5,"align":"left","baseline":"middle","color":"#000000"},
   "encoding":{"x":{"field":"s","type":"quantitative","axis":null},"y":{"field":"th","type":"quantitative","axis":null},"text":{"field":"label"}}},
  {"data":{"name":"dCurves"},"mark":{"type":"point","opacity":0},
   "encoding":{"x":{"field":"s","type":"quantitative","axis":{"orient":"top","labels":false,"title":null,"minExtent":0,"maxExtent":0,"values":[0.5,1,1.5,2,2.5,3,3.5,4]}},
               "y":{"field":"th","type":"quantitative","axis":{"orient":"right","labels":false,"title":null,"minExtent":0,"maxExtent":0,"values":[-56,-54,-52,-50,-48,-46,-44,-42]}}}}
 ]},
{"width":195,"height":134,
 "title":{"text":"E","dx":-30,"offset":-24,"baseline":"alphabetic"},
 "resolve":{"axis":{"x":"independent","y":"independent"}},
 "layer":[
  {"data":{"name":"eV"},"mark":{"type":"line","color":"#000000","strokeWidth":1,"clip":true},
   "encoding":{"x":{"field":"t","type":"quantitative","scale":{"domain":[0,500],"nice":false,"zero":false},"axis":{"title":"Time (ms)","values":[0,50,100,150,200,250,300,350,400,450,500],"labelExpr":"datum.value % 100 === 0 ? datum.label : ''"}},
               "y":{"field":"v","type":"quantitative","scale":{"domain":[-75,-35],"nice":false,"zero":false},"axis":{"title":"Voltage (mV)","values":[-75,-70,-65,-60,-55,-50,-45,-40,-35],"labelExpr":"datum.value % 10 === 0 ? datum.label : ''"}}}},
  {"data":{"name":"eTh"},"mark":{"type":"line","color":"#e8262a","strokeWidth":1,"clip":true},
   "encoding":{"x":{"field":"t","type":"quantitative","axis":null},"y":{"field":"v","type":"quantitative","axis":null}}},
  {"data":{"name":"eSp"},"mark":{"type":"rule","color":"#e8262a","strokeWidth":1,"clip":true},
   "encoding":{"x":{"field":"t","type":"quantitative","axis":null},"y":{"field":"v","type":"quantitative","axis":null},"y2":{"field":"top"}}},
  {"data":{"name":"eSp"},"mark":{"type":"circle","color":"#e8262a","size":12,"opacity":1},
   "encoding":{"x":{"field":"t","type":"quantitative","axis":null},"y":{"field":"v","type":"quantitative","axis":null}}},
  {"data":{"name":"eV"},"mark":{"type":"point","opacity":0},
   "encoding":{"x":{"field":"t","type":"quantitative","axis":{"orient":"top","labels":false,"title":null,"minExtent":0,"maxExtent":0,"values":[0,50,100,150,200,250,300,350,400,450,500]}},
               "y":{"field":"v","type":"quantitative","axis":{"orient":"right","labels":false,"title":null,"minExtent":0,"maxExtent":0,"values":[-75,-70,-65,-60,-55,-50,-45,-40,-35]}}}}
 ]},
{"width":195,"height":134,
 "title":{"text":"F","dx":-30,"offset":-24,"baseline":"alphabetic"},
 "resolve":{"axis":{"x":"independent","y":"independent"}},
 "layer":[
  {"data":{"name":"fPts"},"mark":{"type":"circle","color":"#ee1c1c","size":11,"opacity":1,"clip":true},
   "encoding":{"x":{"field":"s","type":"quantitative","scale":{"domain":[0.5,4],"nice":false,"zero":false},"axis":{"title":"Depolarization slope (mV/ms)","values":[0.5,1,1.5,2,2.5,3,3.5,4],"labelExpr":"datum.value % 1 === 0 ? format(datum.value, '.1f') : ''"}},
               "y":{"field":"th","type":"quantitative","scale":{"domain":[-55,-25],"nice":false,"zero":false},"axis":{"title":"Threshold (mV)","values":[-55,-50,-45,-40,-35,-30,-25],"labelExpr":"datum.value % 10 === 0 ? datum.label : ''"}}}},
  {"data":{"name":"fCurve"},"mark":{"type":"line","color":"#000000","strokeWidth":1,"clip":true},
   "encoding":{"x":{"field":"s","type":"quantitative","axis":null},"y":{"field":"th","type":"quantitative","axis":null}}},
  {"data":{"name":"fCurve"},"mark":{"type":"point","opacity":0},
   "encoding":{"x":{"field":"s","type":"quantitative","axis":{"orient":"top","labels":false,"title":null,"minExtent":0,"maxExtent":0,"values":[0.5,1,1.5,2,2.5,3,3.5,4]}},
               "y":{"field":"th","type":"quantitative","axis":{"orient":"right","labels":false,"title":null,"minExtent":0,"maxExtent":0,"values":[-55,-50,-45,-40,-35,-30,-25]}}}}
 ]}
],
"config":{
 "view":{"stroke":"#808080","strokeWidth":0.8},
 "axis":{"grid":false,"domain":false,"tickSize":-3,"tickColor":"#444444","tickWidth":0.8,"labelFont":"Liberation Serif","labelFontSize":9,"labelColor":"#333333","titleFont":"Liberation Sans","titleFontSize":10,"titleFontWeight":"normal","titleColor":"#000000","labelFlush":false,"labelOverlap":false,"titlePadding":1},
 "axisX":{"labelPadding":1},
 "axisY":{"labelPadding":2},
 "title":{"font":"Liberation Sans","fontSize":17,"fontWeight":"bold","anchor":"start","frame":"group","color":"#000000"}
}
}
